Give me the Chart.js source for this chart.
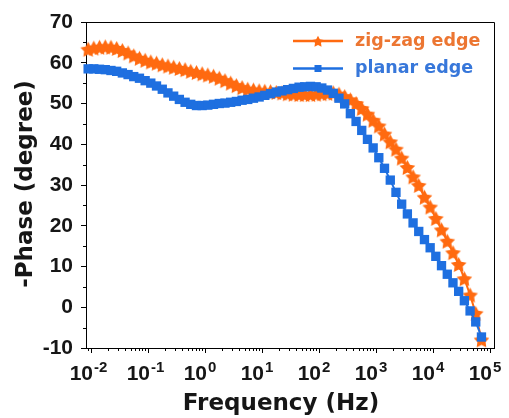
<!DOCTYPE html>
<html>
<head>
<meta charset="utf-8">
<script src="https://cdn.jsdelivr.net/npm/chart.js@4.4.0/dist/chart.umd.min.js"></script>
<style>
  html, body { margin: 0; padding: 0; background: #fff; }
</style>
</head>
<body>
<canvas id="phase-chart" width="509" height="418"></canvas>
<script>
// frequency (Hz), ~10 points per decade
var freq = [0.00891, 0.0112, 0.0141, 0.0178, 0.0224, 0.0282, 0.0355, 0.0447, 0.0562, 0.0708,
    0.0891, 0.112, 0.141, 0.178, 0.224, 0.282, 0.355, 0.447, 0.562, 0.708,
    0.891, 1.12, 1.41, 1.78, 2.24, 2.82, 3.55, 4.47, 5.62, 7.08,
    8.91, 11.2, 14.1, 17.8, 22.4, 28.2, 35.5, 44.7, 56.2, 70.8,
    89.1, 112, 141, 178, 224, 282, 355, 447, 562, 708,
    891, 1120, 1410, 1780, 2240, 2820, 3550, 4470, 5620, 7080,
    8910, 11200, 14100, 17800, 22400, 28200, 35500, 44700, 56200, 70800];

var zigzagPhase = [63.3, 63.6, 63.8, 63.9, 63.8, 63.5, 63.0, 62.4, 61.7, 61.1,
    60.6, 60.2, 59.9, 59.5, 59.2, 58.9, 58.6, 58.3, 57.9, 57.6,
    57.3, 57.0, 56.7, 56.2, 55.6, 55.0, 54.4, 53.9, 53.5, 53.3,
    53.1, 53.0, 52.9, 52.7, 52.6, 52.4, 52.3, 52.2, 52.2, 52.2,
    52.3, 52.4, 52.5, 52.6, 52.3, 51.7, 50.9, 50.0, 48.8, 47.4,
    45.9, 44.5, 42.5, 40.6, 38.8, 36.6, 34.3, 32.0, 29.9, 27.0,
    24.6, 21.8, 19.0, 16.2, 13.4, 10.5, 7.0, 3.0, -1.5, -8.0];

var planarPhase = [58.5, 58.5, 58.4, 58.3, 58.1, 57.9, 57.5, 57.1, 56.6, 56.2,
    55.6, 55.0, 54.3, 53.5, 52.6, 51.8, 51.0, 50.3, 49.8, 49.5,
    49.5, 49.6, 49.8, 50.0, 50.1, 50.3, 50.5, 50.8, 51.0, 51.3,
    51.6, 52.0, 52.4, 52.8, 53.1, 53.4, 53.7, 54.0, 54.1, 54.2,
    54.1, 53.8, 53.3, 52.5, 51.3, 49.9, 47.5, 45.6, 43.4, 41.2,
    39.1, 36.7, 34.1, 31.2, 28.2, 25.3, 22.9, 20.7, 18.6, 16.6,
    14.6, 12.5, 10.2, 8.1, 6.0, 3.9, 1.6, -0.9, -3.6, -7.3];

var seriesNames = ["zig-zag edge", "planar edge"];
var yTicks = [-10, 0, 10, 20, 30, 40, 50, 60, 70];
var xDecades = [-2, -1, 0, 1, 2, 3, 4, 5];

var orange = '#FF6A10';
var blue = '#1E6FE0';
var legendText = ['#EC7632', '#3777DA'];

function toPoints(xs, ys) {
    return xs.map(function (x, i) { return {x: x, y: ys[i]}; });
}

function starImage(r, color) {
    var c = document.createElement('canvas');
    var s = Math.ceil(r * 2 + 2);
    c.width = s; c.height = s;
    var g = c.getContext('2d');
    g.fillStyle = color;
    g.beginPath();
    for (var i = 0; i < 10; i++) {
        var rad = i % 2 === 0 ? r : r * 0.52;
        var a = -Math.PI / 2 + i * Math.PI / 5;
        var px = s / 2 + rad * Math.cos(a), py = s / 2 + 0.8 + rad * Math.sin(a);
        if (i === 0) g.moveTo(px, py); else g.lineTo(px, py);
    }
    g.closePath();
    g.fill();
    return c;
}

var star = starImage(8.2, orange);
var legendStar = starImage(6, orange);

// ticks, frame, tick labels with superscripts, titles and legend
var extras = {
    id: 'extras',
    afterDraw: function (chart) {
        var ctx = chart.ctx, a = chart.chartArea;
        var xs = chart.scales.x, ys = chart.scales.y;
        ctx.save();
        ctx.strokeStyle = '#000';
        ctx.lineWidth = 1;
        ctx.beginPath();
        ctx.moveTo(a.left, a.top + 0.5);
        ctx.lineTo(a.right + 0.5, a.top + 0.5);
        ctx.lineTo(a.right + 0.5, a.bottom);
        for (var n = -3; n <= 5; n++) {
            for (var m = 1; m <= 9; m++) {
                var v = m * Math.pow(10, n);
                if (v < xs.min || v > xs.max) continue;
                var px = Math.round(xs.getPixelForValue(v)) + 0.5;
                ctx.moveTo(px, a.bottom);
                ctx.lineTo(px, a.bottom + (m === 1 ? 5 : 3));
            }
        }
        for (var i = 0; i < yTicks.length - 1; i++) {
            var py = Math.round(ys.getPixelForValue((yTicks[i] + yTicks[i + 1]) / 2)) + 0.5;
            ctx.moveTo(a.left, py);
            ctx.lineTo(a.left - 3, py);
        }
        ctx.stroke();

        ctx.fillStyle = '#161616';
        xDecades.forEach(function (d) {
            var px = xs.getPixelForValue(Math.pow(10, d));
            ctx.font = 'bold 21px "Liberation Sans"';
            ctx.textAlign = 'right';
            ctx.textBaseline = 'alphabetic';
            ctx.fillText('10', px + 2, 380);
            ctx.font = 'bold 15px "Liberation Sans"';
            ctx.textAlign = 'left';
            ctx.fillText(String(d), px + 3, 372);
        });

        ctx.font = 'bold 23px "DejaVu Sans"';
        ctx.textAlign = 'center';
        ctx.fillText('Frequency (Hz)', 281, 410);
        ctx.save();
        ctx.translate(31.5, 184);
        ctx.rotate(-Math.PI / 2);
        ctx.fillText('-Phase (degree)', 0, 0);
        ctx.restore();

        chart.data.datasets.forEach(function (ds, i) {
            var y = 41 + i * 27.5;
            ctx.strokeStyle = ds.borderColor;
            ctx.lineWidth = 2.5;
            ctx.beginPath();
            ctx.moveTo(293, y);
            ctx.lineTo(343, y);
            ctx.stroke();
            if (ds.pointStyle === 'rect') {
                ctx.fillStyle = ds.borderColor;
                ctx.fillRect(314.5, y - 3.5, 7, 7);
            } else {
                ctx.drawImage(legendStar, 318 - legendStar.width / 2, y - legendStar.height / 2);
            }
            ctx.fillStyle = legendText[i];
            ctx.font = 'bold 17.5px "DejaVu Sans"';
            ctx.textAlign = 'left';
            ctx.textBaseline = 'middle';
            ctx.fillText(ds.label, 355, y);
        });
        ctx.restore();
    }
};

new Chart(document.getElementById("phase-chart"), {
    type: 'line',
    data: {
        datasets: [
            {
                label: seriesNames[0],
                data: toPoints(freq, zigzagPhase),
                borderColor: orange,
                backgroundColor: orange,
                borderWidth: 2,
                pointStyle: star,
                pointRadius: 8,
                order: 1,
                clip: false
            },
            {
                label: seriesNames[1],
                data: toPoints(freq, planarPhase),
                borderColor: blue,
                backgroundColor: blue,
                borderWidth: 2,
                pointStyle: 'rect',
                pointRadius: 6.6,
                pointBorderWidth: 0,
                order: 0,
                clip: false
            }
        ]
    },
    options: {
        responsive: false,
        animation: false,
        devicePixelRatio: 1,
        layout: { padding: { left: 0, right: 15, top: 22, bottom: 0 } },
        plugins: {
            legend: { display: false },
            tooltip: { enabled: false }
        },
        scales: {
            x: {
                type: 'logarithmic',
                min: 0.00817,
                max: 117500,
                grid: { display: false },
                border: { display: true, color: '#000', width: 1 },
                ticks: { display: false },
                afterFit: function (s) { s.height = 70; }
            },
            y: {
                min: -10,
                max: 70,
                grid: { display: true, drawOnChartArea: false, drawTicks: true, tickLength: 5, color: '#000' },
                border: { display: true, color: '#000', width: 1 },
                ticks: {
                    stepSize: 10,
                    padding: 8,
                    color: '#161616',
                    font: { family: 'Liberation Sans', weight: 'bold', size: 21 }
                },
                afterFit: function (s) { s.width = 86; }
            }
        }
    },
    plugins: [extras]
});
</script>
</body>
</html>
